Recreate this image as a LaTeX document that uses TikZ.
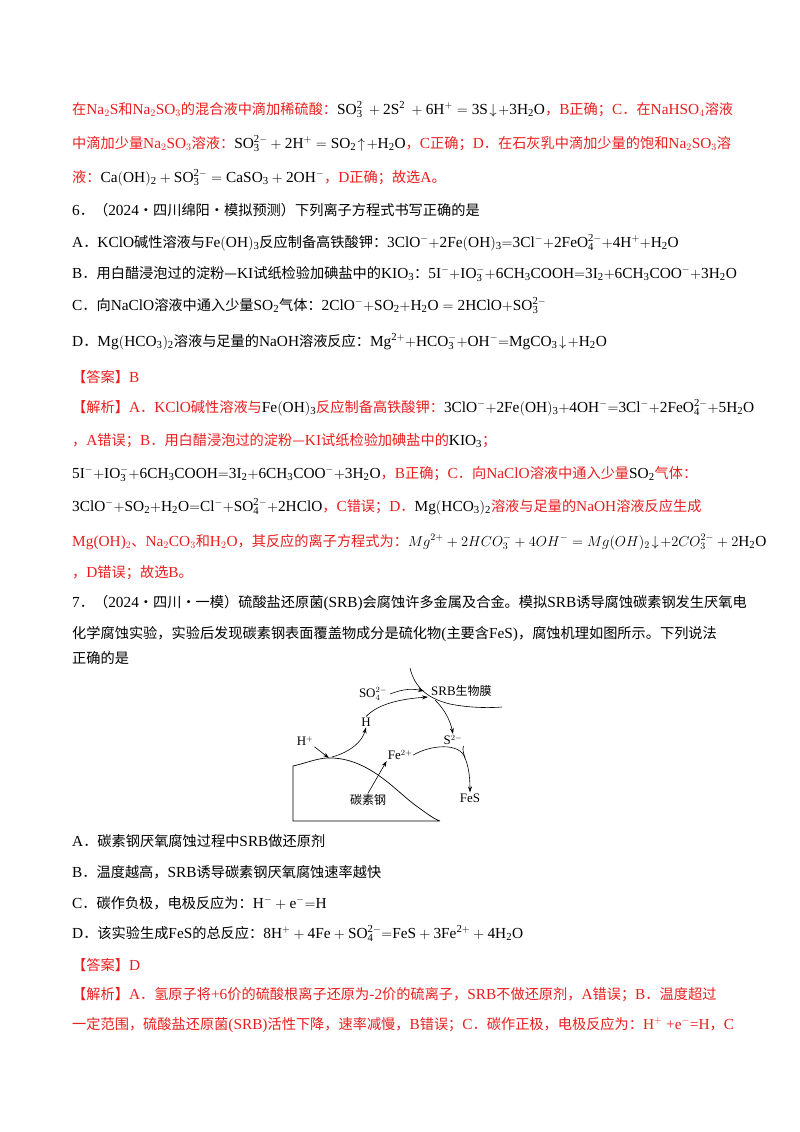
\documentclass[tikz,border=0pt]{standalone}
\usepackage{fontspec}
\setmainfont{Liberation Serif}[Scale=1.08]
\newfontfamily\cjk{Noto Sans CJK SC}
\usetikzlibrary{arrows.meta}
\definecolor{rd}{RGB}{235,30,30}
\newcommand\lt[1]{{\rmfamily #1}}
\newcommand\mk[1]{{\color{black}$\mathrm{#1}$}}
\newcommand\mr[1]{$\mathrm{#1}$}
\begin{document}
\begin{tikzpicture}[x=1pt,y=-1pt,
  ln/.style={anchor=base west,inner sep=0pt,font=\fontsize{14.2}{16}\cjk},
  rl/.style={ln,text=rd},
  dg/.style={font=\fontsize{12}{14}\rmfamily,inner sep=1pt},
  ar/.style={-{Stealth[length=6pt,width=4pt]},line width=0.6pt}]
\useasboundingbox (0,0) rectangle (800,1132);
\fill[white] (0,0) rectangle (800,1132);
\node[rl] (l1) at (72,114) {在\lt{Na$_2$S}和\lt{Na$_2$SO$_3$}的混合液中滴加稀硫酸：\mk{SO_3^{2}\ +2S^{2}\ +6H^{+}=3S\!\downarrow\!+3H_2O}，\lt{B}正确；\lt{C}．在\lt{NaHSO$_4$}溶液};
\node[rl] (l2) at (72,148) {中滴加少量\lt{Na$_2$SO$_3$}溶液：\mk{SO_3^{2-}+2H^{+}=SO_2\!\uparrow\!+H_2O}，\lt{C}正确；\lt{D}．在石灰乳中滴加少量的饱和\lt{Na$_2$SO$_3$}溶};
\node[rl] (l3) at (72,182) {液：\mk{Ca(OH)_2+SO_3^{2-}=CaSO_3+2OH^{-}}，\lt{D}正确；故选\lt{A}。};
\node[ln] (q6) at (72,215) {\lt{6}．（\lt{2024}·四川绵阳·模拟预测）下列离子方程式书写正确的是};
\node[ln] (a6) at (72,247) {\lt{A}．\lt{KClO}碱性溶液与\mr{Fe(OH)_3}反应制备高铁酸钾：\mr{3ClO^{-}{+}2Fe(OH)_3{=}3Cl^{-}{+}2FeO_4^{2-}{+}4H^{+}{+}H_2O}};
\node[ln] (b6) at (72,278) {\lt{B}．用白醋浸泡过的淀粉—\lt{KI}试纸检验加碘盐中的\mr{KIO_3}：\mr{5I^{-}{+}IO_3^{-}{+}6CH_3COOH{=}3I_2{+}6CH_3COO^{-}{+}3H_2O}};
\node[ln] (c6) at (72,310) {\lt{C}．向\lt{NaClO}溶液中通入少量\mr{SO_2}气体：\mr{2ClO^{-}{+}SO_2{+}H_2O=2HClO{+}SO_3^{2-}}};
\node[ln] (d6) at (72,346) {\lt{D}．\mr{Mg(HCO_3)_2}溶液与足量的\lt{NaOH}溶液反应：\mr{Mg^{2+}{+}HCO_3^{-}{+}OH^{-}{=}MgCO_3\!\downarrow\!{+}H_2O}};
\node[rl] (ans6) at (72,382) {【答案】\lt{B}};
\node[rl] (j1) at (72,412) {【解析】\lt{A}．\lt{KClO}碱性溶液与\mk{Fe(OH)_3}反应制备高铁酸钾：\mk{3ClO^{-}{+}2Fe(OH)_3{+}4OH^{-}{=}3Cl^{-}{+}2FeO_4^{2-}{+}5H_2O}};
\node[rl] (j2) at (72,445) {，\lt{A}错误；\lt{B}．用白醋浸泡过的淀粉—\lt{KI}试纸检验加碘盐中的\mk{KIO_3}；};
\node[rl] (j3) at (72,478) {\mk{5I^{-}{+}IO_3^{-}{+}6CH_3COOH{=}3I_2{+}6CH_3COO^{-}{+}3H_2O}，\lt{B}正确；\lt{C}．向\lt{NaClO}溶液中通入少量\mk{SO_2}气体：};
\node[rl] (j4) at (72,511) {\mk{3ClO^{-}{+}SO_2{+}H_2O{=}Cl^{-}{+}SO_4^{2-}{+}2HClO}，\lt{C}错误；\lt{D}．\mk{Mg(HCO_3)_2}溶液与足量的\lt{NaOH}溶液反应生成};
\node[rl] (j5) at (72,546) {\lt{Mg(OH)$_2$}、\lt{Na$_2$CO$_3$}和\lt{H$_2$O}，其反应的离子方程式为：{\color{black}$Mg^{2+}+2HCO_3^{-}+4OH^{-}=Mg(OH)_2\!\downarrow\!+2CO_3^{2-}+2\mathrm{H_2O}$}};
\node[rl] (j6) at (72,577) {，\lt{D}错误；故选\lt{B}。};
\node[ln] (q7) at (72,607) {\lt{7}．（\lt{2024}·四川·一模）硫酸盐还原菌\lt{(SRB)}会腐蚀许多金属及合金。模拟\lt{SRB}诱导腐蚀碳素钢发生厌氧电};
\node[ln] (q7b) at (72,638) {化学腐蚀实验，实验后发现碳素钢表面覆盖物成分是硫化物\lt{(}主要含\lt{FeS)}，腐蚀机理如图所示。下列说法};
\node[ln] (q7c) at (72,663) {正确的是};
% diagram
\draw[line width=0.7pt] (440,821) -- (293,821) -- (293,766) .. controls (310,762) and (320,757) .. (333,758) .. controls (370,760) and (395,790) .. (415,805) .. controls (425,812) and (432,818) .. (440,821);
\draw[line width=0.6pt] (410,668) .. controls (414,685) and (425,698) .. (450,704) .. controls (470,708) and (490,708) .. (502,707);
\node[dg] (hp) at (305,741) {H$^+$};
\node[dg] (h) at (366,722) {H};
\node[dg] (so4) at (373,694) {SO$_4^{2-}$};
\node[dg,anchor=west] (srb) at (430,691) {SRB{\cjk 生物膜}};
\node[dg] (s2) at (453,740) {S$^{2-}$};
\node[dg] (fe) at (400,755) {Fe$^{2+}$};
\node[dg] (fes) at (470,798) {FeS};
\node[dg,font=\fontsize{12}{14}\cjk] (steel) at (368,800) {碳素钢};
\coordinate (top) at (329,758);
\coordinate (mem1) at (424,691);
\coordinate (mem2) at (428,697);
\draw[ar] (hp.south east) -- (top);
\draw[ar] (332,757) .. controls (350,752) and (362,742) .. (h.south);
\draw[ar] (h.north) .. controls (378,704) and (400,699) .. (mem2);
\draw[ar] ([xshift=2pt]so4.east) .. controls (405,688) and (414,689) .. (mem1);
\draw[ar] (435,700) .. controls (445,710) and (450,720) .. (s2.north);
\draw[ar] (fe.east) .. controls (430,745) and (460,742) .. (465,758) .. controls (468,765) and (470,775) .. (fes.north);
\draw[line width=0.6pt] (s2.south east) .. controls (462,750) and (464,754) .. (465,758);
\draw[ar] (steel.north) -- (fe.south west);
% question options
\node[ln] (a7) at (72,846) {\lt{A}．碳素钢厌氧腐蚀过程中\lt{SRB}做还原剂};
\node[ln] (b7) at (72,877) {\lt{B}．温度越高，\lt{SRB}诱导碳素钢厌氧腐蚀速率越快};
\node[ln] (c7) at (72,908) {\lt{C}．碳作负极，电极反应为：\mr{H^{-}+e^{-}{=}H}};
\node[ln] (d7) at (72,938) {\lt{D}．该实验生成\lt{FeS}的总反应：\mr{8H^{+}+4Fe+SO_4^{2-}{=}FeS+3Fe^{2+}+4H_2O}};
\node[rl] (ans7) at (72,970) {【答案】\lt{D}};
\node[rl] (k1) at (72,999) {【解析】\lt{A}．氢原子将\lt{+6}价的硫酸根离子还原为\lt{-2}价的硫离子，\lt{SRB}不做还原剂，\lt{A}错误；\lt{B}．温度超过};
\node[rl] (k2) at (72,1029) {一定范围，硫酸盐还原菌\lt{(SRB)}活性下降，速率减慢，\lt{B}错误；\lt{C}．碳作正极，电极反应为：\lt{H$^+$ +e$^-$=H}，\lt{C}};
\end{tikzpicture}
\end{document}
